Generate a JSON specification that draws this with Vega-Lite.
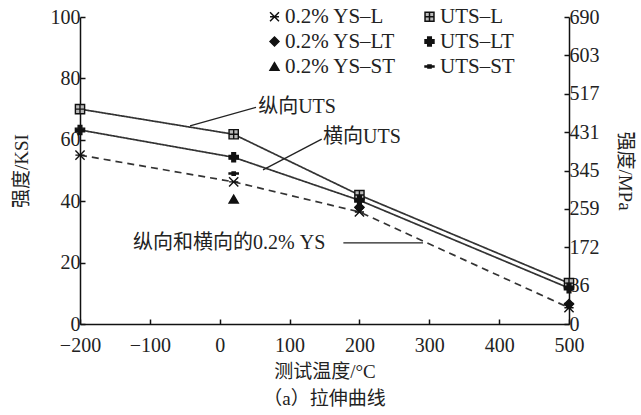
{
  "$schema": "https://vega.github.io/schema/vega-lite/v6.json",
  "autosize": "none",
  "width": 489,
  "height": 307,
  "padding": {"left": 80, "top": 17, "right": 72, "bottom": 91},
  "background": "white",
  "title": {
    "text": "（a）拉伸曲线",
    "orient": "bottom",
    "anchor": "middle",
    "font": "Liberation Serif, Noto Sans CJK SC",
    "fontSize": 19,
    "fontWeight": "normal",
    "color": "#222",
    "offset": 9
  },
  "datasets": {
    "tensile": [
      {"series": "0.2% YS–L", "t": -200, "ksi": 55.0},
      {"series": "0.2% YS–L", "t": 20, "ksi": 46.3},
      {"series": "0.2% YS–L", "t": 200, "ksi": 36.5},
      {"series": "0.2% YS–L", "t": 500, "ksi": 5.3},
      {"series": "0.2% YS–LT", "t": 200, "ksi": 38.0},
      {"series": "0.2% YS–LT", "t": 500, "ksi": 6.5},
      {"series": "0.2% YS–ST", "t": 20, "ksi": 40.7},
      {"series": "UTS–L", "t": -200, "ksi": 70.0},
      {"series": "UTS–L", "t": 20, "ksi": 61.8},
      {"series": "UTS–L", "t": 200, "ksi": 42.0},
      {"series": "UTS–L", "t": 500, "ksi": 13.3},
      {"series": "UTS–LT", "t": -200, "ksi": 63.2},
      {"series": "UTS–LT", "t": 20, "ksi": 54.3},
      {"series": "UTS–LT", "t": 200, "ksi": 40.3},
      {"series": "UTS–LT", "t": 500, "ksi": 11.7},
      {"series": "UTS–ST", "t": 20, "ksi": 49.0}
    ],
    "notes": [
      {"label": "纵向UTS", "x": 55, "y": 70.7},
      {"label": "横向UTS", "x": 148, "y": 60.9},
      {"label": "纵向和横向的0.2% YS", "x": -124, "y": 26.4}
    ],
    "leaders": [
      {"x1": -42.5, "y1": 64.5, "x2": 52, "y2": 70.6},
      {"x1": 62, "y1": 50.2, "x2": 146, "y2": 60.2},
      {"x1": 177, "y1": 26.4, "x2": 291, "y2": 26.4}
    ],
    "mpa": [{"mpa": 0}, {"mpa": 690}]
  },
  "config": {
    "view": {"stroke": null},
    "axis": {
      "grid": false,
      "labelFlush": false,
      "domainColor": "#111",
      "domainWidth": 1.5,
      "tickColor": "#111",
      "tickWidth": 1.5,
      "tickSize": -5,
      "labelFont": "Liberation Serif",
      "labelFontSize": 20,
      "labelColor": "#222",
      "titleFont": "Liberation Serif, Noto Sans CJK SC",
      "titleFontSize": 19,
      "titleFontWeight": "normal",
      "titleColor": "#222"
    }
  },
  "layer": [
    {
      "layer": [
        {
          "mark": {"type": "rule", "color": "#f28b8b", "strokeWidth": 2.5},
          "encoding": {
            "x": {"datum": 20, "type": "quantitative"},
            "y": {"datum": 0, "type": "quantitative"},
            "y2": {"datum": 74}
          }
        },
        {
          "data": {"name": "tensile"},
          "transform": [{"filter": {"field": "series", "oneOf": ["UTS–L", "UTS–LT", "0.2% YS–L"]}}],
          "mark": {"type": "line", "color": "#333"},
          "encoding": {
            "x": {
              "field": "t", "type": "quantitative",
              "scale": {"domain": [-200, 500], "nice": false},
              "axis": {"values": [-200, -100, 0, 100, 200, 300, 400, 500], "title": "测试温度/°C", "labelPadding": 16, "titlePadding": 7}
            },
            "y": {
              "field": "ksi", "type": "quantitative",
              "scale": {"domain": [0, 100], "nice": false},
              "axis": {"values": [0, 20, 40, 60, 80, 100], "title": "强度/KSI", "labelPadding": 5, "titlePadding": 19}
            },
            "detail": {"field": "series"},
            "strokeDash": {
              "field": "series", "type": "nominal", "legend": null,
              "scale": {"domain": ["UTS–L", "UTS–LT", "0.2% YS–L"], "range": [[1, 0], [1, 0], [7, 5]]}
            },
            "strokeWidth": {
              "field": "series", "type": "nominal", "legend": null,
              "scale": {"domain": ["UTS–L", "UTS–LT", "0.2% YS–L"], "range": [1.7, 1.7, 2.8]}
            }
          }
        },
        {
          "data": {"name": "tensile"},
          "mark": {"type": "point", "filled": true, "stroke": "#111", "strokeWidth": 1.4, "opacity": 1, "size": 85},
          "encoding": {
            "x": {"field": "t", "type": "quantitative"},
            "y": {"field": "ksi", "type": "quantitative"},
            "shape": {
              "field": "series", "type": "nominal",
              "scale": {
                "domain": ["0.2% YS–L", "0.2% YS–LT", "0.2% YS–ST", "UTS–L", "UTS–LT", "UTS–ST"],
                "range": [
                  "M-1,-1L1,1M-1,1L1,-1M-1,0L1,0",
                  "diamond",
                  "triangle-up",
                  "M-1,-1H1V1H-1ZM-1,0H1M0,-1V1",
                  "cross",
                  "M-1,-0.12H1V0.12H-1ZM-0.35,-0.35H0.35V0.35H-0.35Z"
                ]
              },
              "legend": {
                "title": null,
                "orient": "none",
                "legendX": 184,
                "legendY": -11,
                "columns": 2,
                "columnPadding": 23,
                "rowPadding": 3,
                "padding": 0,
                "labelFont": "Liberation Serif",
                "labelFontSize": 21,
                "labelColor": "#222",
                "labelOffset": 0,
                "symbolSize": 80,
                "encode": {
                  "symbols": {
                    "update": {
                      "stroke": {"value": "#111"},
                      "strokeWidth": {"value": 1.4}
                    }
                  }
                }
              }
            },
            "fill": {
              "field": "series", "type": "nominal",
              "scale": {
                "domain": ["0.2% YS–L", "0.2% YS–LT", "0.2% YS–ST", "UTS–L", "UTS–LT", "UTS–ST"],
                "range": ["#111", "#111", "#111", "#bbb", "#111", "#111"]
              }
            }
          }
        },
        {
          "data": {"name": "leaders"},
          "mark": {"type": "rule", "color": "#222", "strokeWidth": 1.3},
          "encoding": {
            "x": {"field": "x1", "type": "quantitative"},
            "y": {"field": "y1", "type": "quantitative"},
            "x2": {"field": "x2"},
            "y2": {"field": "y2"}
          }
        },
        {
          "data": {"name": "notes"},
          "mark": {"type": "text", "align": "left", "baseline": "middle", "font": "Liberation Serif, Noto Sans CJK SC", "fontSize": 20, "color": "#222"},
          "encoding": {
            "x": {"field": "x", "type": "quantitative"},
            "y": {"field": "y", "type": "quantitative"},
            "text": {"field": "label"}
          }
        }
      ]
    },
    {
      "data": {"name": "mpa"},
      "mark": {"type": "point", "opacity": 0},
      "encoding": {
        "y": {
          "field": "mpa", "type": "quantitative",
          "scale": {"domain": [0, 690], "nice": false},
          "axis": {
            "orient": "right",
            "values": [0, 86.25, 172.5, 258.75, 345, 431.25, 517.5, 603.75, 690],
            "labelExpr": "['0','86','172','259','345','431','517','603','690'][round(datum.value / 86.25)]",
            "title": "强度/MPa",
            "labelPadding": 5,
            "titlePadding": 15
          }
        }
      }
    }
  ],
  "resolve": {"scale": {"y": "independent"}}
}
